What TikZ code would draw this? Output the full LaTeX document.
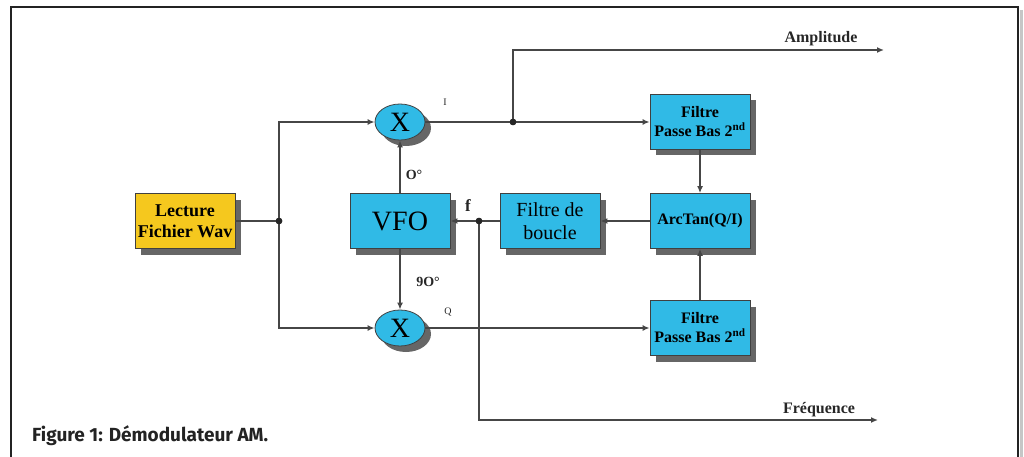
\documentclass[tikz,border=0pt]{standalone}
\usepackage{fontspec}
\setmainfont{Liberation Serif}
\newfontfamily\capfont{Fira Sans}
\usetikzlibrary{arrows.meta,shapes.geometric,shadows}
\definecolor{boxcyan}{RGB}{48,186,230}
\definecolor{boxyellow}{RGB}{245,200,30}
\definecolor{wirecol}{RGB}{70,70,70}
\definecolor{framecol}{RGB}{35,35,35}
\begin{document}
\begin{tikzpicture}[x=1pt,y=-1pt,
  shad/.style={drop shadow={shadow xshift=6pt,shadow yshift=-6pt,fill=black!60,opacity=1}},
  blk/.style={shad,draw=black!75,line width=0.8pt,fill=boxcyan,minimum width=100pt,minimum height=55pt,inner sep=1pt,align=center},
  mult/.style={shad,ellipse,draw=black!75,line width=0.8pt,fill=boxcyan,minimum width=50pt,minimum height=36pt,inner sep=0pt,font=\fontsize{28}{30}\selectfont},
  wire/.style={draw=wirecol,line width=1.6pt},
  arr/.style={wire,-{Latex[length=7pt,width=6pt]}},
  jdot/.style={circle,fill=black!85,inner sep=0pt,minimum size=6.5pt},
  lbl/.style={inner sep=0pt,text=black!85}
]
\useasboundingbox (0,0) rectangle (1024,457);
% frame
\draw[gray!45,line width=3pt] (1021.5,10) -- (1021.5,457);
\draw[framecol,line width=2.5pt] (11,457) -- (11,7) -- (1018,7) -- (1018,457);

% blocks
\node[blk,fill=boxyellow,font=\bfseries\fontsize{18}{21}\selectfont] (lect) at (185,221) {Lecture\\Fichier Wav};
\node[mult] (xt) at (400,122) {X};
\node[mult] (xb) at (400,328) {X};
\node[blk,font=\fontsize{28}{30}\selectfont] (vfo) at (400,221) {VFO};
\node[blk,font=\fontsize{20}{23}\selectfont] (fdb) at (550,221) {Filtre de\\boucle};
\node[blk,font=\bfseries\fontsize{16}{19}\selectfont] (at) at (700,221) {ArcTan(Q/I)};
\node[blk,font=\bfseries\fontsize{16}{19}\selectfont] (ft) at (700,122) {Filtre\\Passe Bas 2\textsuperscript{nd}};
\node[blk,font=\bfseries\fontsize{16}{19}\selectfont] (fb) at (700,328) {Filtre\\Passe Bas 2\textsuperscript{nd}};

% junctions
\node[jdot] (j1) at (279,221) {};
\node[jdot] (j2) at (513,122) {};
\node[jdot] (j3) at (479,221) {};
\coordinate (amp) at (884,50);
\coordinate (freq) at (878,420);

% connectors
\draw[wire] (lect.east) -- (j1.center);
\draw[arr] (j1.center) |- (xt.west);
\draw[arr] (j1.center) |- (xb.west);
\draw[arr] (vfo.north) -- (xt.south);
\draw[arr] (vfo.south) -- (xb.north);
\draw[arr] (xt.east) -- (ft.west);
\draw[arr] (xb.east) -- (fb.west);
\draw[arr] (j2.center) |- (amp);
\draw[arr] (ft.south) -- (at.north);
\draw[arr] (fb.north) -- (at.south);
\draw[arr] (at.west) -- (fdb.east);
\draw[arr] (fdb.west) -- (vfo.east);
\draw[arr] (j3.center) |- (freq);
\node[jdot] at (j1) {};
\node[jdot] at (j2) {};
\node[jdot] at (j3) {};

% labels
\node[lbl,font=\fontsize{10}{12}\selectfont] (li) at (445,102) {I};
\node[lbl,font=\fontsize{10}{12}\selectfont] (lq) at (448,312) {Q};
\node[lbl,font=\bfseries\fontsize{14}{16}\selectfont] (l0) at (414,175) {O°};
\node[lbl,font=\bfseries\fontsize{14}{16}\selectfont] (l90) at (428,282) {9O°};
\node[lbl,font=\bfseries\fontsize{17}{19}\selectfont] (lf) at (468,206) {f};
\node[lbl,font=\bfseries\fontsize{16}{18}\selectfont] (lamp) at (821,39) {Amplitude};
\node[lbl,font=\bfseries\fontsize{16}{18}\selectfont] (lfreq) at (819,410) {Fréquence};

% caption
\node[anchor=base west,inner sep=0pt,text=framecol,font=\capfont\bfseries\fontsize{19}{21}\selectfont] (cap) at (32,441) {Figure 1: Démodulateur AM.};
\end{tikzpicture}
\end{document}
